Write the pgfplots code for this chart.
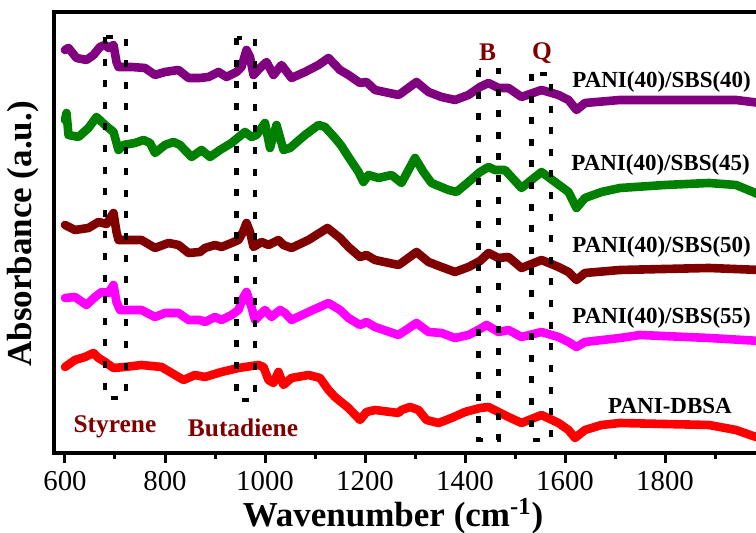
\documentclass[border=0pt]{standalone}
\usepackage{fontspec}
\setmainfont{Liberation Serif}
\usepackage{pgfplots}
\pgfplotsset{compat=1.18}
\definecolor{cpurple}{RGB}{128,0,128}
\definecolor{cgreen}{RGB}{0,128,0}
\definecolor{cmaroon}{RGB}{128,0,0}
\definecolor{cmagenta}{RGB}{255,0,255}
\definecolor{cred}{RGB}{255,0,0}
\definecolor{clabel}{RGB}{128,0,0}
\tikzset{
  dotbox/.style={black, line width=2.2pt, dash pattern=on 3.5pt off 7.3pt},
  clab/.style={anchor=west, inner sep=0pt, font=\bfseries\fontsize{11.5}{12}\selectfont},
  blab/.style={text=clabel, font=\bfseries\fontsize{12.7}{13}\selectfont},
}

\begin{document}
\begin{tikzpicture}
\begin{axis}[
  at={(0,0)}, anchor=south west, scale only axis,
  width=353.5pt, height=220.5pt,
  xmin=578, xmax=1992, ymin=-453, ymax=-12,
  clip mode=individual,
  axis line style={line width=2.2pt},
  xtick={600,800,...,1800}, minor xtick={700,900,...,1900},
  xtick pos=left, ytick=\empty,
  tick align=outside,
  major tick length=5pt, minor tick length=3pt,
  every tick/.style={black, line width=1.5pt},
  xticklabel style={font=\fontsize{14.4}{15}\selectfont, yshift=-0.7pt},
  /pgf/number format/assume math mode=true,
  /pgf/number format/1000 sep={},
  every axis plot/.append style={line width=4.3pt, line join=round, line cap=round},
]
% PANI(40)/SBS(40)
\addplot[cpurple] coordinates {
(600,-50) (607,-48) (623,-58) (643,-60) (657,-55) (670,-47) (680,-45) (687,-48)
(697,-45) (703,-62) (707,-67) (733,-67) (760,-68) (780,-75) (800,-72) (827,-70)
(847,-78) (870,-78) (887,-77) (907,-72) (923,-77) (943,-72) (953,-67) (963,-50)
(970,-57) (977,-75) (990,-68) (1003,-62) (1017,-75) (1033,-65) (1053,-78) (1080,-72)
(1107,-65) (1127,-58) (1150,-70) (1167,-75) (1190,-83) (1203,-82) (1220,-90) (1267,-95)
(1273,-93) (1303,-82) (1327,-92) (1353,-97) (1380,-100) (1407,-95) (1430,-87) (1447,-83)
(1467,-88) (1487,-88) (1513,-97) (1553,-90) (1587,-95) (1607,-100) (1623,-110) (1640,-103)
(1710,-100) (1800,-100) (1942,-100) (1990,-103)};
% PANI(40)/SBS(45)
\addplot[cgreen] coordinates {
(600,-120) (603,-113) (607,-135) (627,-137) (647,-128) (663,-117) (680,-125) (697,-132)
(707,-150) (717,-145) (740,-143) (757,-140) (770,-143) (780,-153) (800,-145) (817,-142)
(830,-145) (853,-157) (873,-150) (890,-157) (910,-150) (933,-143) (960,-132) (973,-137)
(983,-135) (1000,-123) (1010,-148) (1023,-125) (1037,-150) (1050,-148) (1080,-135) (1107,-125)
(1120,-127) (1140,-138) (1153,-146) (1167,-157) (1187,-172) (1197,-182) (1207,-175) (1227,-178)
(1253,-175) (1273,-183) (1300,-158) (1317,-172) (1333,-183) (1367,-190) (1383,-192) (1407,-182)
(1430,-172) (1447,-167) (1460,-170) (1480,-170) (1513,-188) (1553,-172) (1580,-182) (1607,-192)
(1623,-208) (1640,-198) (1673,-192) (1710,-188) (1800,-185) (1888,-183) (1942,-185) (1976,-192)
(1990,-195)};
% PANI(40)/SBS(50)
\addplot[cmaroon] coordinates {
(600,-225) (620,-230) (647,-228) (667,-222) (683,-224) (697,-213) (703,-232) (707,-240)
(733,-240) (753,-240) (780,-248) (807,-243) (827,-245) (847,-253) (870,-252) (880,-248)
(900,-245) (913,-247) (933,-243) (947,-240) (956,-232) (963,-223) (970,-232) (977,-247)
(993,-242) (1007,-245) (1027,-240) (1037,-245) (1053,-248) (1087,-240) (1125,-228) (1150,-238)
(1167,-247) (1190,-257) (1203,-255) (1220,-260) (1267,-265) (1273,-263) (1303,-252) (1327,-262)
(1353,-267) (1380,-272) (1407,-267) (1430,-261) (1447,-253) (1467,-258) (1487,-257) (1513,-268)
(1553,-260) (1587,-267) (1607,-272) (1623,-280) (1640,-273) (1710,-270) (1888,-268) (1990,-270)};
% PANI(40)/SBS(55)
\addplot[cmagenta] coordinates {
(600,-298) (620,-297) (643,-305) (660,-297) (673,-292) (687,-293) (697,-285) (703,-302)
(710,-310) (733,-310) (753,-310) (780,-317) (800,-313) (827,-313) (847,-320) (870,-320)
(880,-322) (900,-317) (913,-320) (933,-315) (947,-310) (956,-298) (963,-292) (973,-307)
(980,-320) (1000,-310) (1013,-317) (1030,-310) (1040,-313) (1053,-320) (1087,-312) (1127,-303)
(1150,-310) (1167,-318) (1190,-325) (1203,-322) (1220,-327) (1267,-335) (1273,-333) (1303,-323)
(1327,-332) (1353,-333) (1380,-338) (1407,-335) (1430,-329) (1443,-325) (1467,-332) (1487,-330)
(1513,-337) (1553,-332) (1587,-337) (1607,-342) (1623,-347) (1640,-342) (1710,-338) (1750,-335)
(1888,-338) (1990,-341)};
% PANI-DBSA
\addplot[cred] coordinates {
(600,-367) (620,-360) (640,-357) (657,-353) (667,-358) (680,-362) (697,-368) (720,-367)
(753,-365) (793,-367) (810,-372) (837,-380) (860,-375) (880,-377) (893,-375) (913,-372)
(947,-368) (987,-365) (997,-367) (1007,-380) (1017,-383) (1027,-372) (1037,-385) (1053,-378)
(1087,-375) (1110,-378) (1127,-390) (1140,-397) (1167,-408) (1190,-420) (1203,-412) (1220,-410)
(1267,-413) (1273,-410) (1290,-407) (1307,-410) (1323,-420) (1347,-423) (1373,-418) (1400,-412)
(1430,-408) (1447,-407) (1467,-412) (1487,-417) (1513,-423) (1553,-415) (1587,-423) (1607,-430)
(1620,-438) (1640,-430) (1673,-425) (1710,-423) (1888,-425) (1942,-430) (1976,-436) (1990,-438)};
% band boxes
\draw[dotbox] (axis cs:680,-37) rectangle (axis cs:722,-398);
\draw[dotbox] (axis cs:943,-38) rectangle (axis cs:980,-400);
\draw[dotbox] (axis cs:1427,-70) rectangle (axis cs:1467,-440);
\draw[dotbox] (axis cs:1533,-74) rectangle (axis cs:1572,-440);
% labels
\node[clab] at (axis cs:1614,-82) {PANI(40)/SBS(40)};
\node[clab] at (axis cs:1612,-165) {PANI(40)/SBS(45)};
\node[clab] at (axis cs:1614,-247) {PANI(40)/SBS(50)};
\node[clab] at (axis cs:1614,-318) {PANI(40)/SBS(55)};
\node[clab, anchor=center] at (axis cs:1810,-406) {PANI-DBSA};
\node[blab] at (axis cs:700,-427) {Styrene};
\node[blab] at (axis cs:956,-428) {Butadiene};
\node[blab] at (axis cs:1445,-52) {B};
\node[blab] at (axis cs:1554,-53) {Q};
\node[font=\bfseries\fontsize{17.5}{18}\selectfont] at (axis cs:1256,-516) {Wavenumber (cm\textsuperscript{-1})};
\node[rotate=90, font=\bfseries\fontsize{17.5}{18}\selectfont] at (axis cs:516,-234) {Absorbance (a.u.)};
\end{axis}
\pgfresetboundingbox
\path[use as bounding box] (-27pt,-40pt) rectangle (351pt,226.5pt);
\end{tikzpicture}
\end{document}
